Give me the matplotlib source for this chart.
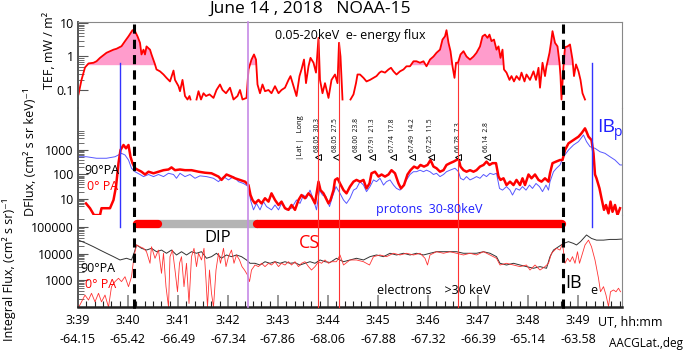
import numpy as np
import matplotlib
matplotlib.use('Agg')
import matplotlib.pyplot as plt
import matplotlib.transforms as mtransforms
from matplotlib.ticker import FixedLocator, NullFormatter, MultipleLocator

plt.rcParams['font.family'] = ['Open Sans', 'DejaVu Sans']

nan = np.nan

# ---- data (time = minutes after 3:00 UT) ----
# total energy flux of 0.05-20 keV electrons, mW/m2
tef_t = [39.01, 39.07, 39.14, 39.21, 39.31, 39.37, 39.44, 39.57, 39.64, 39.71, 39.77, 39.87, 39.94, 40.01,
         40.09, 40.14, 40.19, 40.24, 40.27, 40.31, 40.34, 40.37, 40.44, 40.47, 40.54, 40.57, 40.64, 40.71,
         40.77, 40.84, 40.91, 40.94, 41.01, 41.04, 41.09, 41.14, 41.19, 41.23, 41.25, 41.30, 41.37, 41.41,
         41.46, 41.51, 41.56, 41.63, 41.71, 41.77, 41.84, 41.89, 41.96, 42.04, 42.11, 42.19, 42.24, 42.29,
         42.37, 42.41, 42.47, 42.52, 42.56, 42.59, 42.64, 42.69, 42.74, 42.81, 42.87, 42.94, 43.01, 43.07,
         43.14, 43.21, 43.25, 43.31, 43.37, 43.43, 43.47, 43.52, 43.56, 43.61, 43.65, 43.71, 43.76, 43.81,
         43.84, 43.89, 43.94, 44.01, 44.07, 44.14, 44.19, 44.22, 44.25, 44.29, 44.35, 44.45, 44.51, 44.56,
         44.59, 44.64, 44.71, 44.77, 44.84, 44.91, 44.97, 45.03, 45.07, 45.14, 45.21, 45.26, 45.31, 45.37,
         45.44, 45.51, 45.57, 45.64, 45.71, 45.77, 45.84, 45.91, 45.97, 46.04, 46.11, 46.17, 46.24, 46.29,
         46.34, 46.37, 46.41, 46.45, 46.49, 46.53, 46.56, 46.60, 46.65, 46.71, 46.77, 46.84, 46.91, 46.97,
         47.04, 47.09, 47.14, 47.19, 47.23, 47.27, 47.32, 47.37, 47.41, 47.45, 47.49, 47.52, 47.57, 47.63,
         47.67, 47.72, 47.77, 47.83, 47.87, 47.93, 47.97, 48.04, 48.11, 48.16, 48.21, 48.24, 48.29, 48.34,
         48.37, 48.43, 48.46, 48.49, 48.54, 48.59, 48.63, 48.65, 48.67, 48.71, 48.74, 48.79, 48.84, 48.89,
         48.92, 48.96, 49.01, 49.05, 49.09, 49.14]
tef = [0.074, 0.2, 0.47, 0.62, 0.65, 0.72, 0.91, 1.29, 1.44, 1.6, 1.7, 2.03, 2.87, 4.0,
       6.1, 5.7, 4.0, 2.56, 1.15, 1.6, 1.15, 2.0, 1.6, 1.15, 0.58, 0.41, 0.36, 0.29,
       0.23, 0.18, 0.38, 0.2, 0.13, 0.092, 0.2, 0.066, 0.052, 0.066, 0.052, nan, 0.052, 0.092,
       0.052, 0.08, 0.066, 0.074, 0.058, 0.1, 0.146, 0.1, 0.08, 0.117, 0.052, 0.066, 0.1, 0.052,
       0.058, 0.41, 0.81, 1.15, 0.81, 0.146, 0.08, 0.146, 0.092, 0.1, 0.08, 0.13, 0.08, 0.1,
       0.117, 0.2, 0.26, 0.13, 0.066, 0.26, 0.41, 0.81, 0.16, 0.51, 0.91, 0.65, 0.33, 3.6,
       0.2, 0.08, 0.16, 0.058, 0.2, 0.29, 0.16, 2.56, 1.0, 0.052, nan, 0.052, 0.074, 0.16,
       0.29, 0.29, 0.23, 0.18, 0.2, 0.23, 0.26, 0.33, 0.36, 0.33, 0.41, 0.46, 0.36, 0.29,
       0.36, 0.41, 0.51, 0.51, 0.72, 0.72, 0.65, 0.72, 0.51, 0.81, 1.0, 1.29, 1.6, 3.2,
       4.0, 6.1, 2.56, 1.44, 0.51, 0.23, 0.65, 0.65, 1.15, 1.44, 1.0, 0.81, 1.0, 1.29,
       2.0, 4.0, 4.5, 3.6, 4.5, 2.87, 3.2, 1.6, 2.0, 0.91, 1.6, 0.41, 0.33, 0.2,
       0.26, 0.18, 0.26, 0.2, 0.33, 0.18, 0.29, 0.2, 0.36, 0.2, 0.46, 0.117, 0.65, 0.26,
       0.51, 1.29, 2.56, 5.7, 2.56, 2.0, 0.65, 0.26, 0.052, 0.51, 1.9, 2.0, 2.28, 0.81,
       0.26, 0.58, 0.36, 0.2, 0.08, 0.052]
tef_level = 0.55
fill_windows = [(39.05, 40.6), (42.45, 42.6), (45.6, 47.55), (48.4, 48.95)]

# differential flux of 30-80 keV protons
p0_t = [39.16, 39.24, 39.32, 39.44, 39.47, 39.64, 39.71, 39.76, 39.81, 39.85, 39.91, 39.96, 40.01, 40.05,
        40.09, 40.14, 40.21, 40.27, 40.34, 40.41, 40.51, 40.61, 40.71, 40.81, 40.87, 40.94, 41.04, 41.14,
        41.27, 41.41, 41.54, 41.67, 41.81, 41.87, 41.97, 42.07, 42.14, 42.24, 42.34, 42.41, 42.45, 42.49,
        42.54, 42.61, 42.67, 42.74, 42.81, 42.87, 42.94, 43.01, 43.07, 43.14, 43.21, 43.27, 43.34, 43.41,
        43.47, 43.54, 43.61, 43.67, 43.74, 43.81, 43.85, 43.91, 43.96, 44.01, 44.05, 44.11, 44.14, 44.19,
        44.24, 44.31, 44.37, 44.44, 44.51, 44.57, 44.64, 44.71, 44.77, 44.83, 44.87, 44.94, 45.01, 45.07,
        45.14, 45.21, 45.27, 45.34, 45.41, 45.46, 45.52, 45.59, 45.65, 45.72, 45.79, 45.85, 45.92, 45.99,
        46.05, 46.11, 46.17, 46.24, 46.31, 46.37, 46.44, 46.51, 46.57, 46.61, 46.65, 46.71, 46.77, 46.84,
        46.91, 46.97, 47.04, 47.11, 47.17, 47.23, 47.29, 47.36, 47.41, 47.45, 47.51, 47.57, 47.64, 47.71,
        47.77, 47.84, 47.89, 47.94, 48.01, 48.07, 48.14, 48.21, 48.27, 48.34, 48.41, 48.44, 48.49, 48.56,
        48.64, 48.69, 48.74, 48.81, 48.91, 49.01, 49.07, 49.14, 49.17, 49.21, 49.27, 49.31, 49.34, 49.37,
        49.43, 49.47, 49.52, 49.56, 49.61, 49.65, 49.69, 49.74, 49.79, 49.84]
p0 = [6.6, 4.2, 2.2, 2.2, 4.2, 4.2, 9.1, 32, 290, 1000, 1600, 1170, 1600, 530,
      290, 180, 150, 130, 100, 130, 112, 130, 150, 160, 195, 150, 160, 150,
      150, 130, 118, 112, 82, 60, 100, 82, 70, 60, 51, 37, 14.5, 9.1,
      6.6, 9.1, 6.6, 10.7, 7.8, 17, 9.1, 5.7, 7.8, 4.2, 3.6, 5.7, 3.6, 9.1,
      14.5, 10.7, 17, 12.5, 6.6, 51, 23, 17, 10.7, 6.6, 9.1, 23, 60, 70,
      43, 23, 17, 32, 51, 60, 51, 60, 27, 43, 112, 130, 82, 100,
      82, 100, 150, 112, 43, 27, 37, 100, 150, 210, 180, 245, 210, 245,
      390, 210, 180, 130, 150, 245, 290, 335, 390, 460, 210, 150, 130, 150,
      130, 150, 210, 245, 335, 245, 290, 290, 82, 60, 70, 37, 51, 37,
      60, 37, 70, 37, 100, 70, 100, 60, 51, 70, 51, 112, 290, 335,
      390, 390, 1000, 1870, 2550, 3500, 4800, 7650, 5600, 3500, 2550, 730, 100, 70,
      27, 10.7, 3.6, 5.7, 2.6, 7.8, 3.0, 5.7, 2.2, 4.2]
p90_t = [39.01, 39.17, 39.37, 39.57, 39.74, 39.87, 39.94, 40.01, 40.07, 40.14, 40.24, 40.31, 40.41, 40.51,
         40.61, 40.71, 40.81, 40.91, 40.97, 41.04, 41.14, 41.24, 41.34, 41.44, 41.57, 41.71, 41.81, 41.91,
         42.01, 42.11, 42.21, 42.31, 42.41, 42.45, 42.51, 42.57, 42.64, 42.71, 42.77, 42.87, 42.94, 43.01,
         43.07, 43.17, 43.27, 43.37, 43.44, 43.51, 43.57, 43.64, 43.71, 43.77, 43.83, 43.89, 43.96, 44.03,
         44.09, 44.16, 44.24, 44.31, 44.37, 44.44, 44.51, 44.57, 44.64, 44.71, 44.77, 44.84, 44.91, 44.97,
         45.04, 45.11, 45.17, 45.24, 45.31, 45.37, 45.44, 45.51, 45.57, 45.64, 45.71, 45.77, 45.84, 45.91,
         45.97, 46.04, 46.11, 46.17, 46.24, 46.31, 46.37, 46.44, 46.54, 46.61, 46.65, 46.71, 46.77, 46.84,
         46.91, 46.97, 47.04, 47.11, 47.17, 47.24, 47.31, 47.37, 47.43, 47.49, 47.57, 47.64, 47.69, 47.76,
         47.83, 47.89, 47.96, 48.03, 48.09, 48.16, 48.23, 48.29, 48.36, 48.41, 48.44, 48.51, 48.57, 48.64,
         48.71, 48.81, 48.91, 49.01, 49.11, 49.17, 49.24, 49.34, 49.44, 49.54, 49.64, 49.74, 49.84, 49.87]
p90 = [530, 530, 460, 460, 530, 730, 625, 390, 180, 130, 100, 82, 100, 82,
       100, 82, 112, 100, 70, 112, 82, 100, 70, 88, 82, 70, 51, 82,
       60, 82, 51, 43, 32, 9.1, 3.6, 6.6, 3.6, 7.8, 4.9, 3.6, 5.7, 3.6,
       6.6, 3.6, 4.2, 9.1, 6.6, 14.5, 10.7, 23, 9.1, 3.6, 23, 14.5, 12.5, 4.9,
       12.5, 32, 17, 9.1, 6.6, 10.7, 23, 27, 51, 37, 20, 32, 60, 51,
       70, 37, 51, 60, 37, 27, 23, 37, 60, 100, 130, 130, 150, 130,
       150, 130, 100, 112, 82, 100, 130, 150, 180, 130, 70, 60, 82, 60,
       70, 82, 70, 100, 82, 112, 100, 112, 27, 23, 32, 23, 14.5, 27,
       23, 32, 23, 37, 27, 43, 32, 20, 37, 23, 51, 130, 180, 245,
       530, 1000, 1600, 2200, 4100, 2200, 1370, 1170, 850, 730, 530, 390, 245, 245]

# integral flux of >30 keV electrons
e90_t = [39.01, 39.17, 39.31, 39.44, 39.57, 39.71, 39.84, 39.97, 40.07, 40.12, 40.17, 40.27, 40.37, 40.47,
         40.57, 40.67, 40.77, 40.87, 40.97, 41.07, 41.17, 41.27, 41.37, 41.47, 41.57, 41.67, 41.77, 41.87,
         41.97, 42.07, 42.17, 42.27, 42.37, 42.44, 42.54, 42.64, 42.74, 42.84, 42.94, 43.04, 43.14, 43.24,
         43.34, 43.44, 43.54, 43.64, 43.74, 43.84, 43.94, 44.04, 44.17, 44.31, 44.44, 44.57, 44.71, 44.84,
         44.97, 45.11, 45.24, 45.37, 45.51, 45.64, 45.77, 45.91, 46.04, 46.17, 46.31, 46.44, 46.57, 46.71,
         46.84, 46.97, 47.11, 47.24, 47.37, 47.44, 47.57, 47.71, 47.84, 47.97, 48.11, 48.24, 48.37, 48.44,
         48.51, 48.61, 48.71, 48.81, 48.91, 48.97, 49.05, 49.17, 49.27, 49.37, 49.51, 49.64, 49.77, 49.87]
e90 = [32000, 24000, 18000, 13500, 10200, 7600, 5700, 6600, 5700, 10200, 21000, 15700, 13500, 15700,
       11700, 13500, 10200, 13500, 8800, 11700, 8800, 11700, 10200, 11700, 6600, 7600, 10200, 6600,
       8800, 7600, 8800, 7600, 5700, 4270, 4270, 3680, 4900, 4270, 4900, 4270, 4900, 4270,
       4500, 3680, 4270, 4900, 4270, 5700, 4900, 4600, 6600, 4900, 5700, 6600, 5700, 7600,
       8800, 7600, 10200, 8800, 10200, 8800, 10200, 8800, 10200, 11700, 11700, 11700, 11700, 10200,
       10200, 10200, 11700, 10200, 7600, 4270, 3680, 4270, 3680, 3200, 2770, 3200, 2770, 7600,
       13500, 18000, 24000, 28000, 24000, 21000, 28000, 50000, 37000, 32000, 32000, 34000, 34000, 35000]
e0_t = [39.01, 39.07, 39.14, 39.21, 39.27, 39.34, 39.41, 39.47, 39.54, 39.61, 39.67, 39.74, 39.81, 39.87,
        39.94, 40.01, 40.07, 40.12, 40.17, 40.24, 40.31, 40.37, 40.44, 40.47, 40.54, 40.61, 40.67, 40.71,
        40.76, 40.81, 40.84, 40.89, 40.94, 40.99, 41.03, 41.07, 41.12, 41.17, 41.22, 41.27, 41.32, 41.37,
        41.41, 41.47, 41.52, 41.56, 41.59, 41.63, 41.67, 41.71, 41.76, 41.81, 41.85, 41.91, 41.96, 42.01,
        42.07, 42.12, 42.17, 42.23, 42.28, 42.33, 42.39, 42.43, 42.47, 42.54, 42.61, 42.67, 42.74, 42.81,
        42.87, 42.94, 43.01, 43.07, 43.14, 43.21, 43.27, 43.34, 43.41, 43.47, 43.54, 43.61, 43.67, 43.74,
        43.81, 43.87, 43.94, 44.01, 44.07, 44.17, 44.24, 44.31, 44.44, 44.57, 44.71, 44.83, 44.91, 45.04,
        45.17, 45.31, 45.44, 45.57, 45.71, 45.84, 45.94, 45.99, 46.04, 46.17, 46.31, 46.44, 46.57, 46.71,
        46.84, 46.97, 47.11, 47.24, 47.37, 47.44, 47.57, 47.71, 47.84, 47.97, 48.04, 48.14, 48.24, 48.34,
        48.41, 48.47, 48.57, 48.64, 48.69, 48.74, 48.79, 48.84, 48.89, 48.94, 48.99, 49.03, 49.07, 49.14,
        49.21, 49.27, 49.34, 49.41, 49.45, 49.51, 49.56, 49.61, 49.65, 49.71, 49.76, 49.81, 49.85]
e0 = [90, 150, 270, 175, 315, 150, 315, 150, 270, 95, 560, 870, 1160, 870,
      1330, 560, 1330, 7600, 21000, 18000, 15700, 11700, 4270, 18000, 6600, 13500, 1790, 10200,
      560, 95, 7600, 13500, 2380, 360, 4270, 7600, 560, 4270, 130, 7600, 15700, 3200,
      10200, 5700, 15700, 1000, 95, 2380, 315, 95, 2380, 10200, 4270, 15700, 3200, 7600,
      13500, 4270, 8800, 5700, 3200, 2380, 1550, 870, 2380, 3680, 3200, 4270, 3200, 4270,
      3680, 4900, 3200, 4270, 3680, 4900, 3680, 4900, 3200, 4270, 4900, 3200, 2380, 3200,
      4900, 4270, 5700, 4270, 4900, 4900, 8800, 3680, 5700, 5700, 4900, 3680, 7600, 8800,
      7600, 10200, 8800, 10200, 8800, 10200, 6600, 3680, 8800, 11700, 10200, 11700, 10200, 8800,
      10200, 8800, 11700, 8800, 6600, 3680, 4270, 3680, 3200, 3680, 2380, 3680, 2380, 3200,
      4270, 10200, 15700, 13500, 24000, 4270, 6600, 4900, 7600, 4270, 11700, 4270, 7600, 21000,
      32000, 18000, 5700, 1160, 360, 560, 270, 100, 360, 420, 360, 490, 360]

# event times
ib_dash_t = [40.12, 48.70]
purple_t = 42.40
red_line_t = [43.80, 44.22, 46.60]
blue_line_t = [39.84, 49.28]
dip_seg = (40.60, 42.60)
cs_segs = [(40.18, 40.60), (42.58, 48.68)]
bar_level = 1.3e5

# pass positions |Lat| Long
mark_t = [43.80, 44.16, 44.58, 44.88, 45.30, 45.68, 46.06, 46.60, 47.18]
mark_lbl = ['68.05  30.3', '68.05  27.5', '68.00  23.8', '67.91  21.3', '67.74  17.8',
            '67.49  14.2', '67.25  11.5', '66.78  7.3', '66.14  2.8']
mark_level = 520

minutes = list(range(39, 50))
aacg_lat = ['-64.15', '-65.42', '-66.49', '-67.34', '-67.86', '-68.06', '-67.88', '-67.32', '-66.39',
            '-65.14', '-63.58']

# ---- figure ----
W, H = 685, 350
def fx(x):
    return x / W
def fy(y):
    return 1 - y / H

fig = plt.figure(figsize=(6.85, 3.5), dpi=100)
L, R = 78, 622
ax1 = fig.add_axes([fx(L), fy(108), (R - L) / W, 86 / H])
ax2 = fig.add_axes([fx(L), fy(215), (R - L) / W, 107 / H])
ax3 = fig.add_axes([fx(L), fy(307), (R - L) / W, 92 / H])

RED = '#ff0000'
BLUE = '#3a3aff'

t = np.array(tef_t)
v = np.array(tef)
mask = np.zeros(len(t), bool)
for a, b in fill_windows:
    mask |= (t >= a) & (t <= b)
mask &= np.nan_to_num(v) >= tef_level
ax1.fill_between(t, tef_level, v, where=mask, interpolate=True, color='#ff9ccc', lw=0)
ax1.plot(t, v, color=RED, lw=1.3)

ax2.plot(p90_t, p90, color=BLUE, lw=0.7, alpha=0.85)
ax2.plot(p0_t, p0, color=RED, lw=1.8)
ax2.plot(mark_t, [mark_level] * len(mark_t), ls='none', marker='<', ms=4.5,
         mfc='white', mec='black', mew=0.7)
for tm, lb in zip(mark_t, mark_lbl):
    ax2.text(tm, mark_level * 1.6, lb, rotation=90, ha='center', va='bottom', fontsize=4.8)

ax3.plot(e90_t, e90, color='#333333', lw=0.7)
ax3.plot(e0_t, e0, color='#ff3333', lw=0.6)
ax3.plot(dip_seg, [bar_level] * 2, color='#b4b4b4', lw=6, solid_capstyle='butt')
for a, b in cs_segs:
    ax3.plot([a, b], [bar_level] * 2, color=RED, lw=6, solid_capstyle='round')

ylims = [(0.029, 10.7), (2.22, 51800), (95.7, 284000)]
majors = [[0.1, 1, 10], [10, 100, 1000], [1000, 10000, 100000]]
major_lbl = [['0.1', '1', '10'], ['10', '100', '1000'], ['1000', '10000', '100000']]
minors = [[k * 10.0 ** e for e in (-1, 0) for k in range(2, 10)],
          [k * 10.0 ** e for e in (0, 1, 2) for k in range(2, 10) if k * 10 ** e >= 5] + [2000, 3000, 4000, 5000, 6000],
          [k * 10.0 ** e for e in (2, 3, 4) for k in range(2, 10)] + [200000]]

for ax, yl, mj, ml, mn in zip([ax1, ax2, ax3], ylims, majors, major_lbl, minors):
    ax.set_yscale('log')
    ax.set_xlim(39.0, 49.88)
    ax.set_ylim(*yl)
    ax.yaxis.set_major_locator(FixedLocator(mj))
    ax.set_yticklabels(ml)
    ax.yaxis.set_minor_locator(FixedLocator(mn))
    ax.yaxis.set_minor_formatter(NullFormatter())
    ax.tick_params(axis='y', which='major', direction='in', length=7, width=0.8, color='#555555',
                   labelsize=9, pad=3)
    ax.tick_params(axis='y', which='minor', direction='in', length=4.5, width=0.6, color='#555555')
    ax.patch.set_alpha(0)
    ax.spines['left'].set_color('#555555')
    ax.spines['left'].set_linewidth(1.4)
    ax.spines['right'].set_color('#888888')
    ax.spines['right'].set_linewidth(0.8)
    ax.spines['top'].set_color('#888888')
    ax.spines['top'].set_linewidth(0.8)

ax1.spines['bottom'].set_visible(False)
ax2.spines['bottom'].set_visible(False)
ax2.spines['top'].set_visible(False)
ax3.spines['top'].set_visible(False)
ax3.spines['bottom'].set_color('#222222')
ax3.spines['bottom'].set_linewidth(1.8)
for ax in (ax1, ax2):
    ax.tick_params(axis='x', which='both', bottom=False, labelbottom=False)

ax3.set_xticks(minutes)
ax3.set_xticklabels(['3:%02d\n%s' % (m, la) for m, la in zip(minutes, aacg_lat)])
ax3.xaxis.set_minor_locator(MultipleLocator(1 / 6))
ax3.tick_params(axis='x', which='major', direction='in', length=9, width=1.4, color='#999999',
                labelsize=9, pad=5)
ax3.tick_params(axis='x', which='minor', direction='in', length=4, width=0.8, color='#222222')
for lab in ax3.get_xticklabels():
    lab.set_linespacing(1.65)

# vertical markers across the panels
trans = mtransforms.blended_transform_factory(ax3.transData, fig.transFigure)
for tm in ib_dash_t:
    ax3.plot([tm, tm], [fy(24), fy(311)], transform=trans, clip_on=False, color='black',
             lw=2.2, ls=(0, (3, 2)), zorder=5)
ax3.plot([purple_t, purple_t], [fy(22), fy(307)], transform=trans, clip_on=False,
         color='#c68ae6', lw=1.2, zorder=4)
for tm, top in zip(red_line_t, [38, 43, 63]):
    ax3.plot([tm, tm], [fy(top), fy(307)], transform=trans, clip_on=False,
             color='#ff3333', lw=0.8, zorder=4)
for tm in blue_line_t:
    ax3.plot([tm, tm], [fy(63), fy(227)], transform=trans, clip_on=False,
             color='#3333ff', lw=1.0, zorder=4)

# texts
fig.text(fx(310), fy(9), 'June 14 , 2018   NOAA-15', ha='center', va='center', fontsize=12.5)
fig.text(fx(275), fy(35), '0.05-20keV  e- energy flux', ha='left', va='center', fontsize=9)
fig.text(fx(50), fy(50), 'TEF, mW / m²', rotation=90, ha='center', va='center', fontsize=9)
fig.text(fx(30), fy(152), 'DFlux, (cm² s sr keV)⁻¹', rotation=90, ha='center', va='center', fontsize=9)
fig.text(fx(9), fy(269), 'Integral Flux, (cm² s sr)⁻¹', rotation=90, ha='center', va='center', fontsize=9)
fig.text(fx(84), fy(170), '90°PA', ha='left', va='center', fontsize=9)
fig.text(fx(87), fy(186), '0° PA', ha='left', va='center', fontsize=9, color=RED)
fig.text(fx(80), fy(268), '90°PA', ha='left', va='center', fontsize=9)
fig.text(fx(85), fy(284), '0° PA', ha='left', va='center', fontsize=9, color=RED)
fig.text(fx(376), fy(210), 'protons  30-80keV', ha='left', va='center', fontsize=9, color='#2020ff')
fig.text(fx(218), fy(238), 'DIP', ha='center', va='center', fontsize=12)
fig.text(fx(310), fy(243), 'CS', ha='center', va='center', fontsize=13, color=RED)
fig.text(fx(377), fy(291), 'electrons    >30 keV', ha='left', va='center', fontsize=9)
fig.text(fx(597), fy(127), 'IB', ha='left', va='center', fontsize=14, color='#2020ff')
fig.text(fx(614), fy(133), 'p', ha='left', va='center', fontsize=10, color='#2020ff')
fig.text(fx(565), fy(283), 'IB', ha='left', va='center', fontsize=13)
fig.text(fx(590), fy(290), 'e', ha='left', va='center', fontsize=9)
fig.text(fx(300), fy(138), '|Lat |   Long', rotation=90, ha='center', va='center', fontsize=5.5)
fig.text(fx(598), fy(322), 'UT, hh:mm', ha='left', va='center', fontsize=9)
fig.text(fx(683), fy(343), 'AACGLat.,deg', ha='right', va='center', fontsize=8.5)

plt.savefig('out.png', dpi=100)
